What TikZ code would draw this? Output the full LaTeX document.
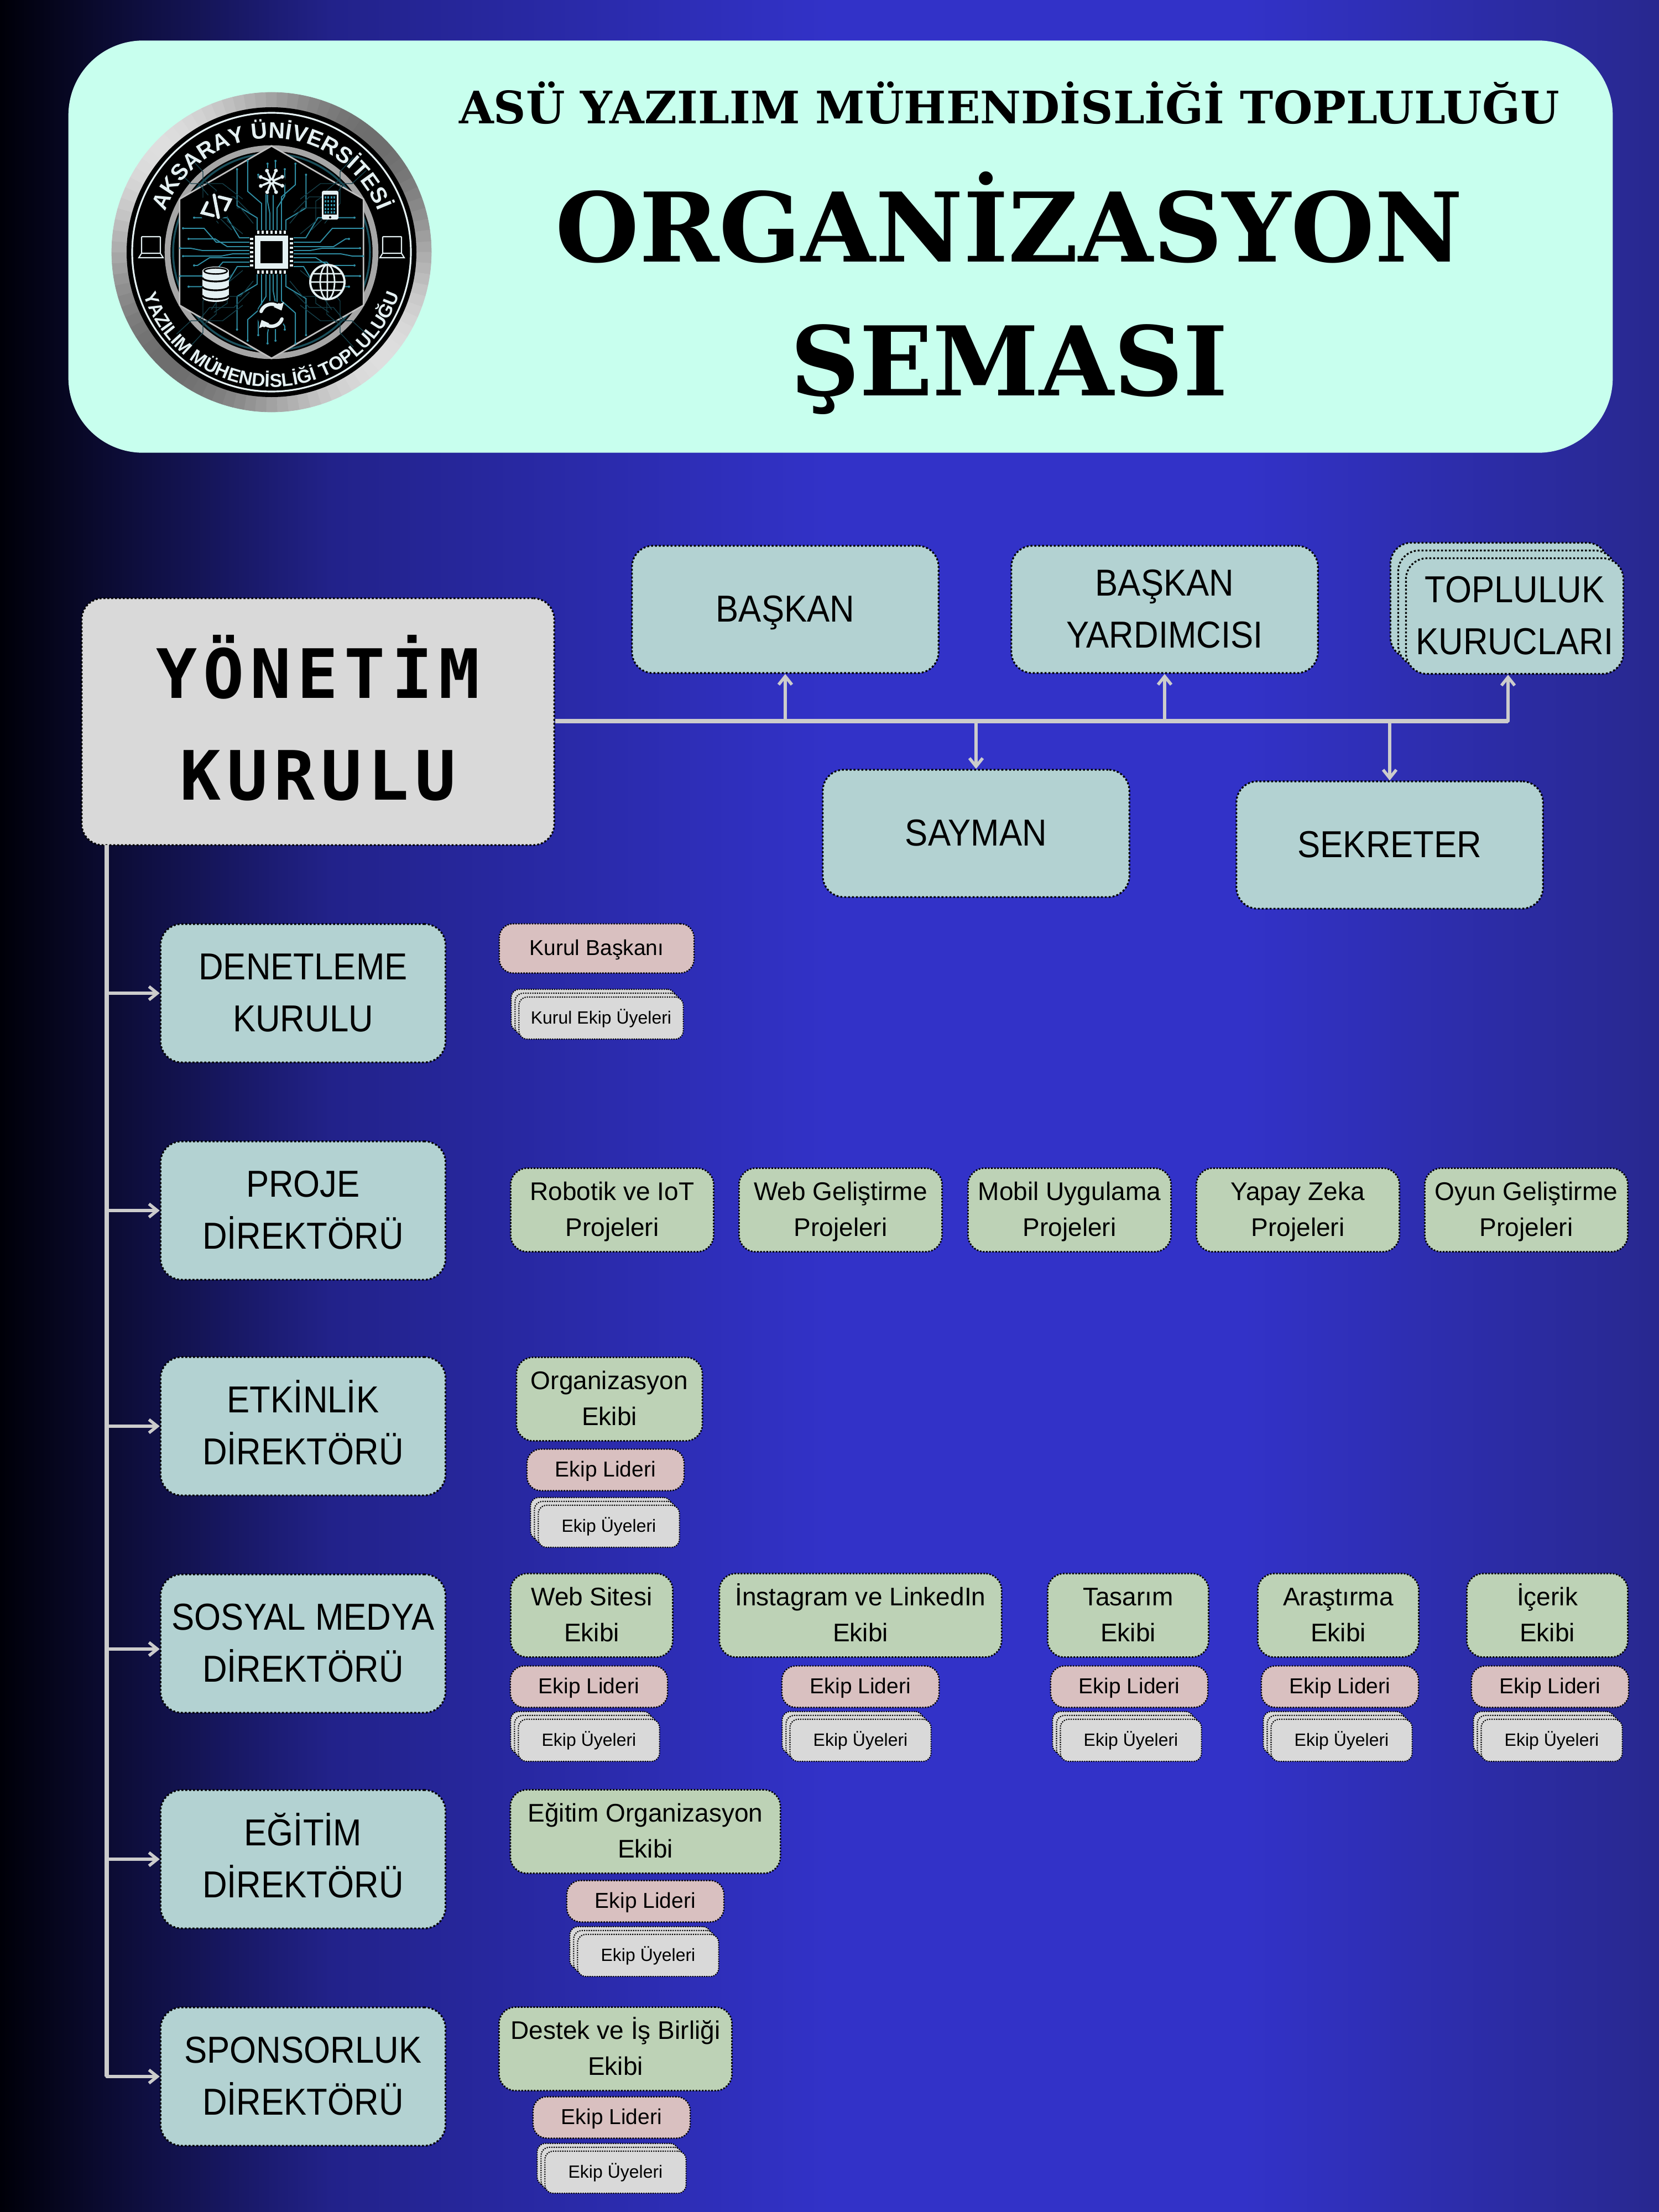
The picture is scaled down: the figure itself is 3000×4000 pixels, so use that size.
\documentclass[tikz,border=0pt]{standalone}
\usepackage{fontspec}
\usepackage{xcolor}
\usetikzlibrary{positioning, arrows.meta, shadows, decorations.text}
\setmainfont{Liberation Sans}
\newfontfamily\capsfont{Liberation Sans}[FakeStretch=0.91]
\newfontfamily\serifbold{DejaVu Serif}
\newfontfamily\monobold{DejaVu Sans Mono}[LetterSpace=9]
\newfontfamily\logofont{Liberation Sans}
% a line with a fixed height and no depth, so accents and descenders do not shift it
\newcommand{\capline}[2][0.66em]{\raisebox{0pt}[#1][0pt]{#2}}

\definecolor{bgdark}{HTML}{000008}
\definecolor{bgquarter}{HTML}{22228A}
\definecolor{bgmid}{HTML}{3232C8}
\definecolor{bgright}{HTML}{28288F}
\definecolor{headfill}{HTML}{C8FFEE}
\definecolor{rolefill}{HTML}{B3D2D2}
\definecolor{teamfill}{HTML}{BDD2B6}
\definecolor{leadfill}{HTML}{D9C0C0}
\definecolor{memberfill}{HTML}{D9D9D9}
\definecolor{linkgrey}{HTML}{CCCCCC}
\definecolor{trace}{HTML}{2F8DA3}
\definecolor{logowhite}{HTML}{E4F0F2}

\pgfdeclarehorizontalshading{pagebg}{100bp}{color(0bp)=(bgdark); color(25bp)=(bgdark); color(35bp)=(bgquarter); color(50bp)=(bgmid); color(62.5bp)=(bgmid); color(75bp)=(bgright); color(100bp)=(bgright)}

\begin{document}
\begin{tikzpicture}[
    x=0.01cm, y=-0.01cm,
    card/.style={
        rectangle, rounded corners=0.38cm, draw=black, fill=rolefill,
        line width=0.9pt, dash pattern=on 1pt off 1pt, align=center, inner sep=0pt
    },
    rolebox/.style={
        card, minimum width=5.54cm, minimum height=2.30cm,
        font=\fontsize{19.3}{26.5}\capsfont
    },
    director/.style={
        card, minimum width=5.15cm, minimum height=2.50cm,
        font=\fontsize{19.3}{26.5}\capsfont
    },
    team/.style={
        card, fill=teamfill, minimum height=1.51cm, rounded corners=0.3cm,
        line width=0.8pt, dash pattern=on 0.8pt off 0.8pt,
        font=\fontsize{13.1}{18.5}\selectfont
    },
    lead/.style={
        card, fill=leadfill, minimum width=2.84cm, minimum height=0.75cm, rounded corners=0.25cm,
        line width=0.7pt, dash pattern=on 0.7pt off 0.7pt,
        font=\fontsize{11.1}{14}\selectfont
    },
    members/.style={
        card, fill=memberfill, minimum width=2.55cm, minimum height=0.76cm, rounded corners=0.15cm,
        line width=0.6pt, dash pattern=on 0.6pt off 0.6pt,
        double copy shadow={shadow xshift=-0.07cm, shadow yshift=0.07cm, fill=memberfill, draw=black,
            line width=0.6pt, dash pattern=on 0.6pt off 0.6pt},
        font=\fontsize{9.1}{12}\selectfont
    },
    trunk/.style={draw=linkgrey, line width=0.08cm},
    link/.style={
        draw=linkgrey, line width=0.055cm, line cap=round,
        -{Straight Barb[length=0.15cm,width=0.24cm]}
    },
    chipline/.style={draw=trace, line width=0.55pt},
    fineline/.style={draw=black!55!trace, line width=0.4pt},
    icon/.style={draw=logowhite, line width=1.1pt, line cap=round}
]

% Page and header
\useasboundingbox (0,0) rectangle (3000,4000);
\shade[shading=pagebg] (0,0) rectangle (3000,4000);
\node[rectangle, rounded corners=1.35cm, fill=headfill, minimum width=27.91cm, minimum height=7.45cm] (header) at (1520,446) {};
\node[font=\fontsize{23}{28}\serifbold\bfseries] (subtitle) at (1825,186) {ASÜ YAZILIM MÜHENDİSLİĞİ TOPLULUĞU};
\node[font=\fontsize{49.4}{69}\serifbold\bfseries, align=center] (title) at (1825,530) {ORGANİZASYON\\ŞEMASI};

% Logo
\begin{scope}[shift={(491,456)}]
\foreach \a in {0,4,...,356}{
    \pgfmathsetmacro{\g}{35+22*cos(2*(\a-135))}
    \fill[black!\g!white, draw=black!\g!white, line width=0.2pt] (0,0) -- (\a:289) arc[start angle=\a, delta angle=-4, radius=289] -- cycle;
}
\fill[black] (0,0) circle[radius=262];
\draw[logowhite, line width=0.9pt] (0,0) circle[radius=252];
\draw[black!35!white, line width=3pt] (0,0) circle[radius=188];
\draw[black!45!trace, line width=1pt] (0,0) circle[radius=178];
\fill[black, draw=black!25!white, line width=0.8pt] (90:192) -- (30:192) -- (-30:192) -- (-90:192) -- (-150:192) -- (150:192) -- cycle;
% circuit lines
\foreach \a in {0,90,180,270}{
    \begin{scope}[rotate=\a]
    \foreach \t/\u/\v in {-26/62/150,-18/88/165,-10/112/140,-3/70/160,3/125/165,10/80/150,18/100/160,26/58/140}{
        \draw[chipline] (40,\t) -- (\u,\t) -- (\u+22,\t*2.4) -- (\v,\t*2.4);
        \fill[trace] (\v,\t*2.4) circle[radius=2];
    }
    \foreach \t/\u in {-33/52,33/52,-40/72,40/72,-52/96,52/96}{
        \draw[fineline] (\u,\t) -- (\u+28,\t*1.7) -- (\u+28,\t*2.8) -- (\u+52,\t*3.3);
    }
    \end{scope}
}
% chip
\fill[logowhite] (-30,-30) rectangle (30,30);
\fill[black] (-20,-20) rectangle (20,20);
\foreach \t in {-24,-16,...,24}{
    \draw[logowhite, line width=1.2pt] (\t,-39) -- (\t,-33) (\t,33) -- (\t,39) (-39,\t) -- (-33,\t) (33,\t) -- (39,\t);
}
% network icon
\begin{scope}[shift={(0,-128)}]
    \fill[black] (0,0) circle[radius=25];
    \foreach \b in {0,45,...,315}{
        \draw[icon] (0,0) -- (\b+22:17);
        \fill[logowhite] (\b+22:21) circle[radius=3.5];
    }
    \draw[icon, fill=black] (0,0) circle[radius=4];
\end{scope}
% code icon
\begin{scope}[shift={(-100,-83)}, rotate=25]
    \fill[black] (-32,-24) rectangle (32,24);
    \draw[icon, line width=1.6pt] (-12,-13) -- (-28,0) -- (-12,13);
    \draw[icon, line width=1.6pt] (12,-13) -- (28,0) -- (12,13);
    \draw[icon, line width=1.6pt] (5,-20) -- (-5,20);
\end{scope}
% phone icon
\begin{scope}[shift={(106,-85)}]
    \fill[logowhite, rounded corners=0.03cm] (-15,-26) rectangle (15,26);
    \fill[black] (-12,-19) rectangle (12,17);
    \foreach \s in {-14,-7,0,7,13}{ \draw[trace, line width=1pt, dash pattern=on 0.9pt off 0.6pt] (-10,\s) -- (10,\s); }
    \fill[black] (0,22) circle[radius=2];
\end{scope}
% database icon
\begin{scope}[shift={(-101,58)}]
    \fill[logowhite] (-24,-24) rectangle (24,24);
    \fill[logowhite] (0,-24) ellipse[x radius=24, y radius=8];
    \fill[logowhite] (0,24) ellipse[x radius=24, y radius=8];
    \draw[black, line width=0.7pt] (0,-24) ellipse[x radius=21, y radius=5.5];
    \foreach \s in {-12,4,20}{
        \draw[black, line width=0.9pt] (-24,\s) arc[start angle=180, end angle=0, x radius=24, y radius=7];
    }
\end{scope}
% globe icon
\begin{scope}[shift={(101,54)}]
    \fill[black] (0,0) circle[radius=31];
    \draw[icon] (0,0) circle[radius=31];
    \draw[icon, line width=0.8pt] (0,0) ellipse[x radius=13, y radius=31] (0,-31) -- (0,31) (-31,0) -- (31,0)
        (-26,-15) -- (26,-15) (-26,15) -- (26,15);
\end{scope}
% sync icon
\begin{scope}[shift={(0,114)}]
    \fill[black] (0,0) circle[radius=26];
    \draw[icon, line width=1.8pt, -{Triangle[length=0.12cm,width=0.2cm]}] (-160:20) arc[start angle=-160, end angle=-25, radius=20];
    \draw[icon, line width=1.8pt, -{Triangle[length=0.12cm,width=0.2cm]}] (20:20) arc[start angle=20, end angle=155, radius=20];
\end{scope}
% laptops
\foreach \s in {-218,218}{
    \begin{scope}[shift={(\s,-10)}]
    \draw[icon, line width=0.6pt, rounded corners=0.01cm] (-17,-18) rectangle (17,12);
    \draw[icon, line width=0.6pt] (-17,12) -- (-22,20) -- (22,20) -- (17,12);
    \end{scope}
}
% ring texts
\path[decorate, decoration={text along path, text align=center, text={|\fontsize{11.6}{12}\logofont\bfseries\color{logowhite}|AKSARAY ÜNİVERSİTESİ}}]
    (-170:206) arc[start angle=-170, end angle=-10, radius=206];
\path[decorate, decoration={text along path, text align=center, text={|\fontsize{9.6}{12}\logofont\bfseries\color{logowhite}|YAZILIM MÜHENDİSLİĞİ TOPLULUĞU}}]
    (170:244) arc[start angle=170, end angle=10, radius=244];
\end{scope}

% Management board
\node[card, fill=memberfill, minimum width=8.54cm, minimum height=4.46cm, font=\fontsize{35}{52.4}\monobold\bfseries] (board) at (575,1305) {\capline[0.8em]{YÖNETİM}\\\capline[0.8em]{KURULU}};

\node[rolebox] (president) at (1420,1102) {\capline{BAŞKAN}};
\node[rolebox] (vicepresident) at (2106,1102) {\capline{BAŞKAN}\\\capline{YARDIMCISI}};
\node[rolebox, minimum width=3.93cm, minimum height=2.09cm, double copy shadow={shadow xshift=-0.14cm, shadow yshift=0.14cm, fill=rolefill, draw=black,
    line width=0.9pt, dash pattern=on 1pt off 1pt}] (founders) at (2739,1114) {\capline{TOPLULUK}\\\capline{KURUCLARI}};
\node[rolebox] (treasurer) at (1765,1507) {\capline{SAYMAN}};
\node[rolebox] (secretary) at (2513,1528) {\capline{SEKRETER}};

% Directors
\node[director] (audit) at (548,1796) {\capline{DENETLEME}\\\capline{KURULU}};
\node[director] (project) at (548,2189) {\capline{PROJE}\\\capline{DİREKTÖRÜ}};
\node[director] (event) at (548,2579) {\capline{ETKİNLİK}\\\capline{DİREKTÖRÜ}};
\node[director] (social) at (548,2972) {\capline{SOSYAL MEDYA}\\\capline{DİREKTÖRÜ}};
\node[director] (education) at (548,3362) {\capline{EĞİTİM}\\\capline{DİREKTÖRÜ}};
\node[director] (sponsor) at (548,3755) {\capline{SPONSORLUK}\\\capline{DİREKTÖRÜ}};

% Audit board
\node[lead, minimum width=3.52cm, minimum height=0.89cm] (auditlead) at (1079,1715) {\capline{Kurul Başkanı}};
\node[members, minimum width=2.97cm] (auditmembers) at (1087,1841) {\capline{Kurul Ekip Üyeleri}};

% Project teams
\foreach \name/\cx/\txt in {robotics/1107/Robotik ve IoT, web/1520/Web Geliştirme, mobile/1934/Mobil Uygulama, ai/2347/Yapay Zeka, game/2760/Oyun Geliştirme}{
    \node[team, minimum width=3.67cm] (\name) at (\cx,2188) {\capline{\txt}\\\capline{Projeleri}};
}

% Event team
\node[team, minimum width=3.36cm] (organisation) at (1102,2530) {\capline{Organizasyon}\\\capline{Ekibi}};
\node[lead] (eventlead) at (1095,2658) {\capline{Ekip Lideri}};
\node[members] (eventmembers) at (1101,2760) {\capline{Ekip Üyeleri}};

% Social media teams
\foreach \name/\cx/\w/\lx/\mx/\txt in {site/1070/2.93/1065/1065/Web Sitesi, insta/1556/5.10/1556/1556/İnstagram ve LinkedIn, design/2040/2.91/2042/2045/Tasarım, research/2420/2.91/2423/2426/Araştırma, content/2798/2.91/2803/2806/İçerik}{
    \node[team, minimum width=\w cm] (\name) at (\cx,2921) {\capline{\txt}\\\capline{Ekibi}};
    \node[lead] (\name lead) at (\lx,3050) {\capline{Ekip Lideri}};
    \node[members] (\name members) at (\mx,3147) {\capline{Ekip Üyeleri}};
}

% Education team
\node[team, minimum width=4.88cm] (training) at (1167,3312) {\capline{Eğitim Organizasyon}\\\capline{Ekibi}};
\node[lead] (traininglead) at (1167,3438) {\capline{Ekip Lideri}};
\node[members] (trainingmembers) at (1172,3536) {\capline{Ekip Üyeleri}};

% Sponsorship team
\node[team, minimum width=4.21cm] (support) at (1113,3705) {\capline{Destek ve İş Birliği}\\\capline{Ekibi}};
\node[lead] (supportlead) at (1106,3829) {\capline{Ekip Lideri}};
\node[members] (supportmembers) at (1113,3928) {\capline{Ekip Üyeleri}};

% Connections
\coordinate (founderfoot) at ([xshift=-0.12cm]founders.south);
\coordinate (busend) at (founderfoot |- 0,1304);
\coordinate (buspres) at (president.south |- 0,1304);
\coordinate (busvice) at (vicepresident.south |- 0,1304);
\coordinate (bustreas) at (treasurer.north |- 0,1304);
\coordinate (bussecr) at (secretary.north |- 0,1304);
\draw[trunk] (board.east |- busend) -- (busend);
\draw[link] (busend) -- (founderfoot);
\draw[link] (buspres) -- (president.south);
\draw[link] (busvice) -- (vicepresident.south);
\draw[link] (bustreas) -- (treasurer.north);
\draw[link] (bussecr) -- (secretary.north);

\coordinate (trunktop) at (193,1528);
\coordinate (trunkend) at (193,3755);
\coordinate (socialfoot) at ([yshift=-0.1cm]social.west);
\draw[trunk] (trunktop) -- (trunkend);
\foreach \who in {audit.west,project.west,event.west,socialfoot,education.west,sponsor.west}{
    \draw[link] (trunktop |- \who) -- (\who);
}

\end{tikzpicture}
\end{document}
